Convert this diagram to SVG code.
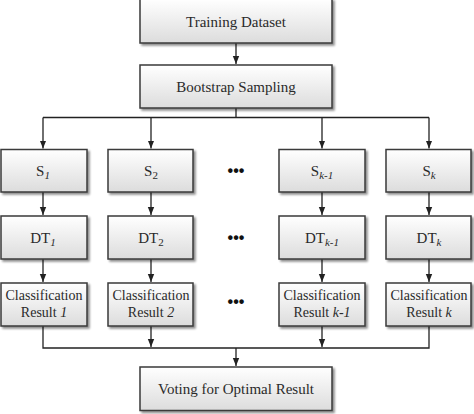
<svg xmlns="http://www.w3.org/2000/svg" width="474" height="414" viewBox="0 0 474 414">
<defs>
<linearGradient id="g" x1="0" y1="0" x2="0" y2="1">
<stop offset="0" stop-color="#ffffff"/>
<stop offset="1" stop-color="#dcdcdc"/>
</linearGradient>
<filter id="sh" x="-10%" y="-10%" width="130%" height="140%">
<feGaussianBlur in="SourceAlpha" stdDeviation="1.2"/>
<feOffset dx="2" dy="2" result="b"/>
<feComponentTransfer><feFuncA type="linear" slope="0.45"/></feComponentTransfer>
<feMerge><feMergeNode/><feMergeNode in="SourceGraphic"/></feMerge>
</filter>
<marker id="ah" viewBox="0 0 8 8" refX="8" refY="4" markerWidth="8" markerHeight="8" markerUnits="userSpaceOnUse" orient="auto">
<path d="M0,0.8 L8,4 L0,7.2 Z" fill="#222"/>
</marker>
</defs>
<style>
.box{fill:url(#g);stroke:#3a3a3a;stroke-width:1.5;filter:url(#sh)}
.t{font-family:"Liberation Serif","Times New Roman",serif;font-size:15px;fill:#2a2a2a;text-anchor:middle}
.cl{font-size:14px}
.s{font-size:11px}
.i{font-style:italic}
.c{fill:none;stroke:#222;stroke-width:1.3}
.a{marker-end:url(#ah)}
.d{font-family:"Liberation Sans",Arial,sans-serif;font-size:16px;font-weight:bold;fill:#111;text-anchor:middle}
</style>
<g id="connectors">
<path class="c a" d="M236,43 V64"/>
<path class="c" d="M236,108 V117.5"/>
<path class="c" d="M43,117.5 H429"/>
<path class="c a" d="M43,117.5 V148.5"/>
<path class="c a" d="M151,117.5 V148.5"/>
<path class="c a" d="M322,117.5 V148.5"/>
<path class="c a" d="M429,117.5 V148.5"/>
<path class="c a" d="M43,192 V215"/>
<path class="c a" d="M151,192 V215"/>
<path class="c a" d="M322,192 V215"/>
<path class="c a" d="M429,192 V215"/>
<path class="c a" d="M43,259 V282"/>
<path class="c a" d="M151,259 V282"/>
<path class="c a" d="M322,259 V282"/>
<path class="c a" d="M429,259 V282"/>
<path class="c" d="M43,326 V348 H429 V326"/>
<path class="c a" d="M151,326 V347"/>
<path class="c a" d="M322,326 V347"/>
<path class="c a" d="M236,348 V366"/>
</g>
<g id="training">
<rect class="box" x="140" y="-1" width="192" height="44"/>
<text class="t" x="236" y="27">Training Dataset</text>
</g>
<g id="bootstrap">
<rect class="box" x="140" y="65" width="192" height="43"/>
<text class="t" x="236" y="91.5">Bootstrap Sampling</text>
</g>
<g id="s1">
<rect class="box" x="1" y="149.5" width="86" height="42.5"/>
<text class="t" x="43" y="176">S<tspan class="s i" dy="3">1</tspan></text>
</g>
<g id="s2">
<rect class="box" x="108" y="149.5" width="85" height="42.5"/>
<text class="t" x="151" y="176">S<tspan class="s" dy="3">2</tspan></text>
</g>
<g id="sk1">
<rect class="box" x="279" y="149.5" width="86" height="42.5"/>
<text class="t" x="322" y="176">S<tspan class="s i" dy="3">k-1</tspan></text>
</g>
<g id="sk">
<rect class="box" x="386" y="149.5" width="85" height="42.5"/>
<text class="t" x="429" y="176">S<tspan class="s i" dy="3">k</tspan></text>
</g>
<g id="dt1">
<rect class="box" x="1" y="216" width="86" height="43"/>
<text class="t" x="43" y="242.5">DT<tspan class="s i" dy="3">1</tspan></text>
</g>
<g id="dt2">
<rect class="box" x="108" y="216" width="85" height="43"/>
<text class="t" x="151" y="242.5">DT<tspan class="s" dy="3">2</tspan></text>
</g>
<g id="dtk1">
<rect class="box" x="279" y="216" width="86" height="43"/>
<text class="t" x="322" y="242.5">DT<tspan class="s i" dy="3">k-1</tspan></text>
</g>
<g id="dtk">
<rect class="box" x="386" y="216" width="85" height="43"/>
<text class="t" x="429" y="242.5">DT<tspan class="s i" dy="3">k</tspan></text>
</g>
<g id="cr1">
<rect class="box" x="1" y="283" width="86" height="43"/>
<text class="t cl" x="44" y="300">Classification</text>
<text class="t cl" x="44" y="317">Result <tspan class="i">1</tspan></text>
</g>
<g id="cr2">
<rect class="box" x="108" y="283" width="85" height="43"/>
<text class="t cl" x="151" y="300">Classification</text>
<text class="t cl" x="151" y="317">Result <tspan class="i">2</tspan></text>
</g>
<g id="crk1">
<rect class="box" x="279" y="283" width="86" height="43"/>
<text class="t cl" x="322" y="300">Classification</text>
<text class="t cl" x="322" y="317">Result <tspan class="i">k-1</tspan></text>
</g>
<g id="crk">
<rect class="box" x="386" y="283" width="85" height="43"/>
<text class="t cl" x="429" y="300">Classification</text>
<text class="t cl" x="429" y="317">Result <tspan class="i">k</tspan></text>
</g>
<g id="voting">
<rect class="box" x="140" y="367" width="192" height="43.5"/>
<text class="t" x="236" y="394">Voting for Optimal Result</text>
</g>
<g id="dots">
<text class="d" x="236" y="176">•••</text>
<text class="d" x="236" y="243">•••</text>
<text class="d" x="236" y="307">•••</text>
</g>
</svg>
